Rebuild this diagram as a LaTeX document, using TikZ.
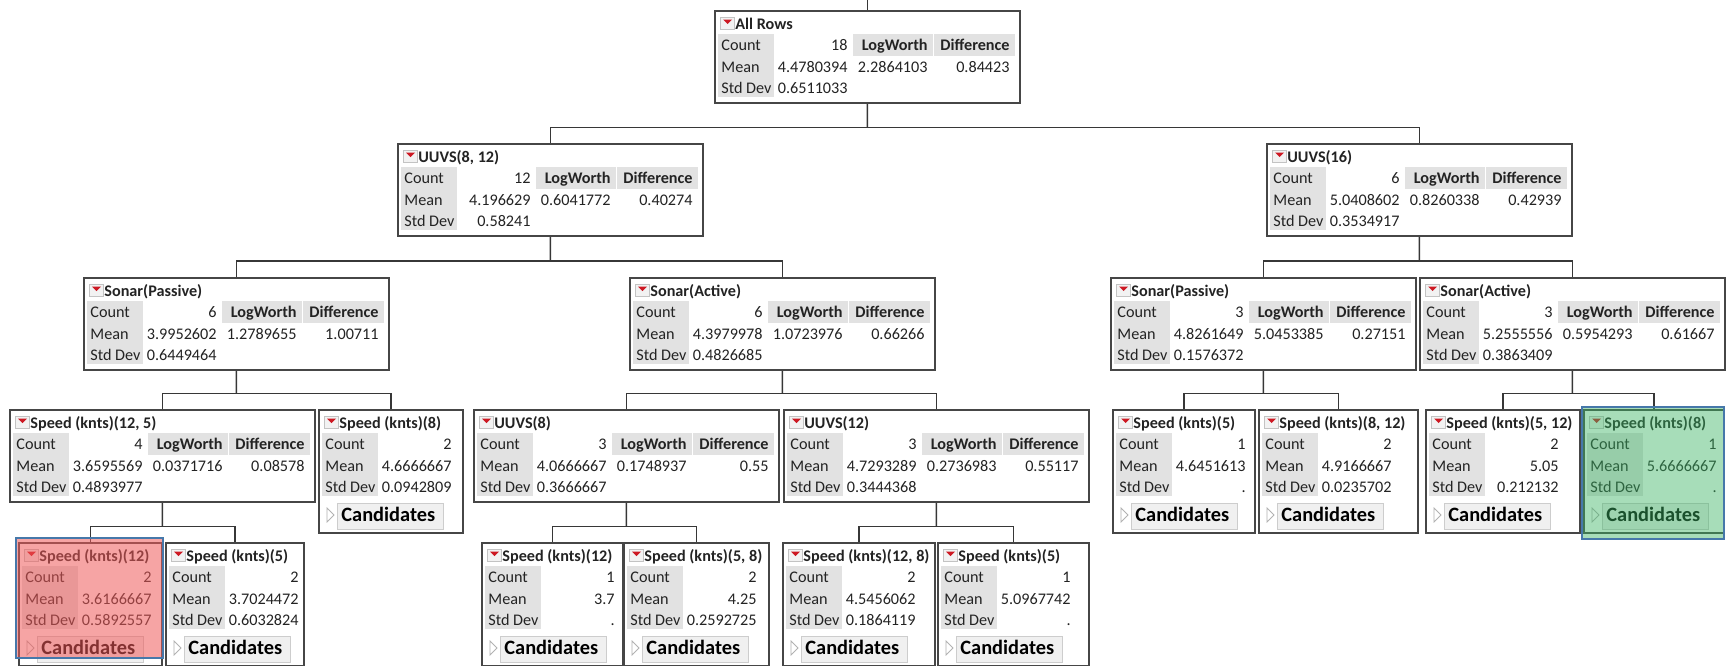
\documentclass[tikz,border=0pt]{standalone}
\usepackage{fontspec}
\setmainfont{Carlito}
\usetikzlibrary{calc}

\definecolor{boxline}{RGB}{70,70,70}
\definecolor{linecol}{RGB}{55,55,55}
\definecolor{cellgray}{RGB}{226,226,226}
\definecolor{btnfill}{RGB}{242,242,242}
\definecolor{btnline}{RGB}{195,195,195}
\definecolor{trired}{RGB}{205,25,35}
\definecolor{txt}{RGB}{35,35,35}
\definecolor{candfill}{RGB}{240,240,240}
\definecolor{candline}{RGB}{205,205,205}
\definecolor{hlred}{RGB}{240,90,90}
\definecolor{hlgreen}{RGB}{60,180,100}
\definecolor{hlline}{RGB}{70,120,170}

\newcommand{\tabfont}{\fontsize{8.1}{9.5}\selectfont}
\newcommand{\candfont}{\fontsize{10.2}{12}\selectfont}

\tikzset{
  treebox/.style={draw=boxline, line width=0.9pt, fill=white, inner sep=0pt, anchor=north west},
  conn/.style={draw=linecol, line width=0.7pt},
  btn/.style={draw=btnline, fill=btnfill, line width=0.4pt},
  ttl/.style={anchor=base west, inner sep=0pt, font=\tabfont\bfseries, text=txt},
  lbl/.style={anchor=base west, inner sep=0pt, font=\tabfont, text=txt},
  val/.style={anchor=base east, inner sep=0pt, font=\tabfont, text=txt},
  hdr/.style={val, font=\tabfont\bfseries},
  candbtn/.style={draw=candline, fill=candfill, line width=0.4pt},
  candtri/.style={draw=gray!60, line width=0.4pt},
  candtxt/.style={anchor=base west, inner sep=0pt, font=\candfont\bfseries, text=black},
  hlbox/.style={draw=hlline, line width=0.6pt}
}

% title row: name, title
\newcommand{\boxhead}[2]{%
  \draw[btn] (6,7) rectangle (20,19);
  \fill[trired] (9,9.5) -- (18,9.5) -- (13.5,14) -- cycle;
  \node[ttl] (#1-t) at (21,19) {#2};
}
% count / mean / std dev rows: name, count, mean, sd
\newcommand{\boxrows}[4]{%
  \fill[cellgray] (4,24) rectangle (60,87);
  \node[lbl] (#1-cl) at (7,40) {Count};
  \node[lbl] (#1-ml) at (7,62) {Mean};
  \node[lbl] (#1-sl) at (7,83) {Std Dev};
  \node[val] (#1-cv) at (134,40) {#2};
  \node[val] (#1-mv) at (134,62) {#3};
  \node[val] (#1-sv) at (134,83) {#4};
}
% split: name, x, y, title, count, mean, sd, logworth, difference
\newcommand{\splitnode}[9]{%
  \node[treebox, minimum width=152.5pt, minimum height=46pt] (#1) at (#2,#3) {};
  \begin{scope}[shift={(#1.north west)}]
    \boxhead{#1}{#4}
    \boxrows{#1}{#5}{#6}{#7}
    \fill[cellgray] (139,24) rectangle (219,46);
    \fill[cellgray] (220,24) rectangle (301,46);
    \node[hdr] (#1-lwh) at (214,40) {LogWorth};
    \node[hdr] (#1-dfh) at (296,40) {Difference};
    \node[val] (#1-lw) at (214,62) {#8};
    \node[val] (#1-df) at (296,62) {#9};
  \end{scope}
}
% leaf: name, x, y, width, title, count, mean, sd
\newcommand{\leafnode}[8]{%
  \pgfmathsetmacro\boxw{#4/2}
  \node[treebox, minimum width=\boxw pt, minimum height=61.5pt] (#1) at (#2,#3) {};
  \begin{scope}[shift={(#1.north west)}]
    \boxhead{#1}{#5}
    \boxrows{#1}{#6}{#7}{#8}
    \draw[candtri] (9,99) -- (9,113) -- (16,106) -- cycle;
    \draw[candbtn] (19,94) rectangle (125,120);
    \node[candtxt] (#1-cand) at (23,112) {Candidates};
  \end{scope}
}
% elbow from parent to two children
\newcommand{\branch}[3]{%
  \coordinate (#1-bar) at ($(#1.south)!0.6!(#1.south |- #2.north)$);
  \draw[conn] (#1.south) -- (#1-bar);
  \draw[conn] (#2.north) |- (#1-bar) -| (#3.north);
}

\begin{document}
\begin{tikzpicture}[x=0.5pt, y=-0.5pt]
  \useasboundingbox (0,0) rectangle (1726,665);
  \fill[white] (0,0) rectangle (1726,665);

  % splits
  \splitnode{allrows}{714}{10}{All Rows}{18}{4.4780394}{0.6511033}{2.2864103}{0.84423}
  \splitnode{uuvsA}{397}{143}{UUVS(8, 12)}{12}{4.196629}{0.58241}{0.6041772}{0.40274}
  \splitnode{uuvsB}{1266}{143}{UUVS(16)}{6}{5.0408602}{0.3534917}{0.8260338}{0.42939}
  \splitnode{sonarPA}{83}{277}{Sonar(Passive)}{6}{3.9952602}{0.6449464}{1.2789655}{1.00711}
  \splitnode{sonarAA}{629}{277}{Sonar(Active)}{6}{4.3979978}{0.4826685}{1.0723976}{0.66266}
  \splitnode{sonarPB}{1110}{277}{Sonar(Passive)}{3}{4.8261649}{0.1576372}{5.0453385}{0.27151}
  \splitnode{sonarAB}{1419}{277}{Sonar(Active)}{3}{5.2555556}{0.3863409}{0.5954293}{0.61667}
  \splitnode{spdA}{9}{409}{Speed (knts)(12, 5)}{4}{3.6595569}{0.4893977}{0.0371716}{0.08578}
  \splitnode{uuvsC}{473}{409}{UUVS(8)}{3}{4.0666667}{0.3666667}{0.1748937}{0.55}
  \splitnode{uuvsD}{783}{409}{UUVS(12)}{3}{4.7293289}{0.3444368}{0.2736983}{0.55117}

  % leaves
  \leafnode{spdB}{318}{409}{144}{Speed (knts)(8)}{2}{4.6666667}{0.0942809}
  \leafnode{spdC}{1112}{409}{142}{Speed (knts)(5)}{1}{4.6451613}{.}
  \leafnode{spdD}{1258}{409}{159}{Speed (knts)(8, 12)}{2}{4.9166667}{0.0235702}
  \leafnode{spdE}{1425}{409}{154}{Speed (knts)(5, 12)}{2}{5.05}{0.212132}
  \leafnode{spdF}{1583}{409}{140}{Speed (knts)(8)}{1}{5.6666667}{.}
  \leafnode{spdG}{18}{542}{143}{Speed (knts)(12)}{2}{3.6166667}{0.5892557}
  \leafnode{spdH}{165}{542}{138}{Speed (knts)(5)}{2}{3.7024472}{0.6032824}
  \leafnode{spdI}{481}{542}{141}{Speed (knts)(12)}{1}{3.7}{.}
  \leafnode{spdJ}{623}{542}{145}{Speed (knts)(5, 8)}{2}{4.25}{0.2592725}
  \leafnode{spdK}{782}{542}{152}{Speed (knts)(12, 8)}{2}{4.5456062}{0.1864119}
  \leafnode{spdL}{937}{542}{151}{Speed (knts)(5)}{1}{5.0967742}{.}

  % connectors
  \coordinate (topedge) at (867,0);
  \draw[conn] (allrows.north) -- (allrows.north |- topedge);
  \foreach \p/\a/\b in {allrows/uuvsA/uuvsB, uuvsA/sonarPA/sonarAA, uuvsB/sonarPB/sonarAB,
      sonarPA/spdA/spdB, sonarAA/uuvsC/uuvsD, sonarPB/spdC/spdD, sonarAB/spdE/spdF,
      spdA/spdG/spdH, uuvsC/spdI/spdJ, uuvsD/spdK/spdL}
    \branch{\p}{\a}{\b};

  % selected leaves
  \fill[hlred, opacity=0.55] (16,538) rectangle (163,658);
  \draw[hlbox] (16,538) rectangle (163,658);
  \fill[hlgreen, opacity=0.45] (1582,407) rectangle (1724,539);
  \draw[hlbox] (1582,407) rectangle (1724,539);
\end{tikzpicture}
\end{document}
